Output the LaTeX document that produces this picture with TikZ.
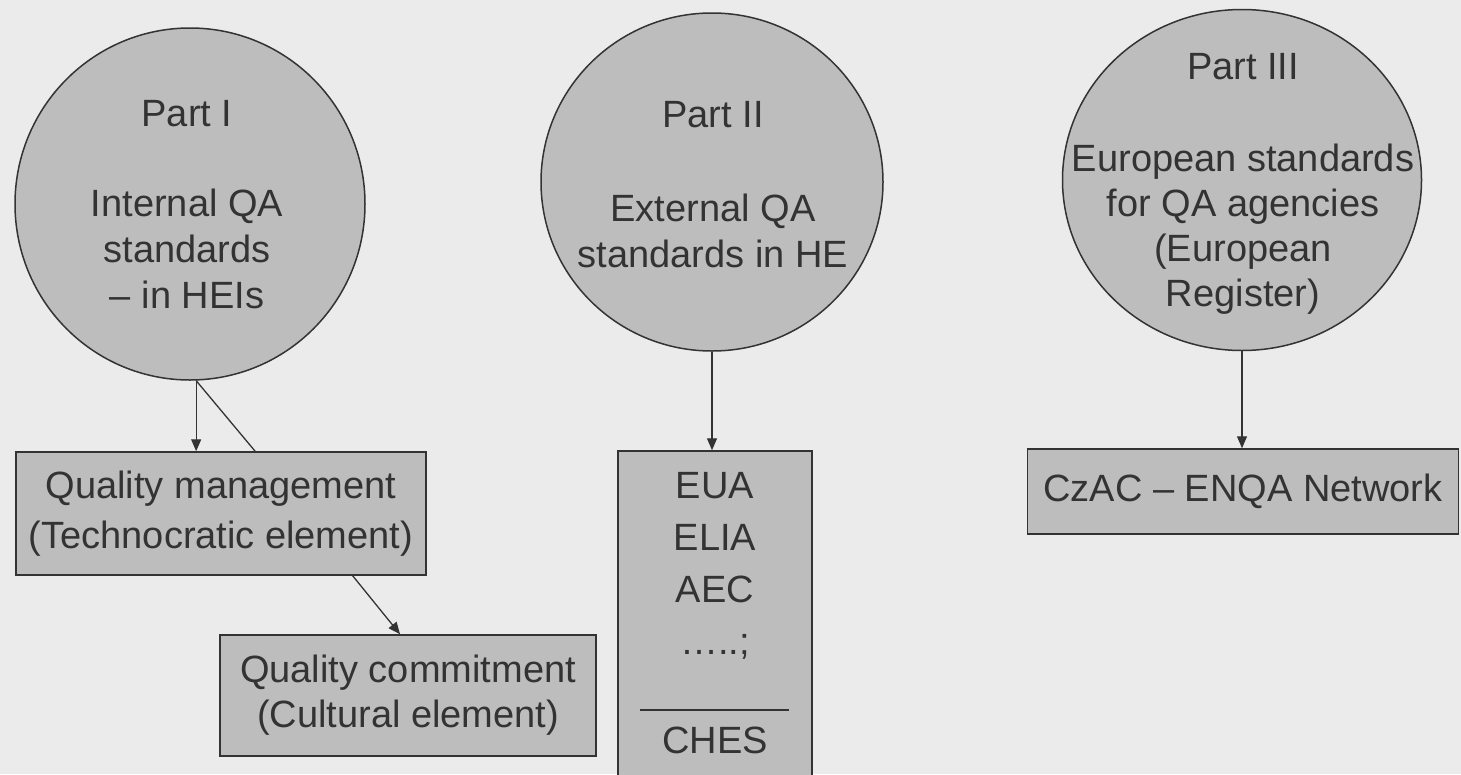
\documentclass[tikz,border=0pt]{standalone}
\usepackage{fontspec}
\setmainfont{Liberation Sans}
\usetikzlibrary{shapes.geometric,arrows.meta,calc}
\definecolor{bgc}{HTML}{EBEBEB}
\definecolor{shapefill}{HTML}{BDBDBD}
\definecolor{ink}{HTML}{333333}
\begin{document}
\begin{tikzpicture}[x=1pt,y=-1pt,
  part/.style={ellipse, draw=ink, fill=shapefill, line width=1.5pt, inner sep=0pt},
  parttext/.style={align=center, inner sep=0pt, text=ink},
  box/.style={rectangle, draw=ink, fill=shapefill, line width=1.5pt, inner sep=0pt, align=center, text=ink},
  plain/.style={inner sep=0pt, align=center, text=ink},
  arr/.style={draw=ink, line width=1.3pt, -{Triangle[length=12pt,width=10pt]}},
  link/.style={draw=ink, line width=1.3pt}]

\useasboundingbox (0,0) rectangle (1461,774);
\clip (0,0) rectangle (1461,774);
\fill[bgc] (0,0) rectangle (1461,774);

% Part I
\node[part, minimum width=350pt, minimum height=352pt] (c1) at (190,204) {};
\node[parttext, font=\fontsize{38}{46}\selectfont] (t1) at (187,205)
  {Part I\\[44pt]Internal QA\\standards\\– in HEIs};

% Part II
\node[part, minimum width=342pt, minimum height=338pt] (c2) at (712,182) {};
\node[parttext, font=\fontsize{38}{46}\selectfont] (t2) at (713,185)
  {Part II\\[48pt]External QA\\standards in HE};

% Part III
\node[part, minimum width=359pt, minimum height=341pt] (c3) at (1242,180) {};
\node[parttext, font=\fontsize{38}{45}\selectfont] (t3) at (1243,184)
  {Part III\\[47pt]European standards\\for QA agencies\\(European\\Register)};

% Boxes
\node[box, minimum width=410pt, minimum height=123pt, font=\fontsize{38}{50}\selectfont] (b1) at (221,513.5)
  {Quality management\\(Technocratic element)};
\node[box, minimum width=376pt, minimum height=121pt, font=\fontsize{38}{45}\selectfont] (b2) at (408,695.5)
  {Quality commitment\\(Cultural element)};
\node[box, minimum width=194pt, minimum height=339pt] (b3) at (715,620.5) {};
\node[plain, anchor=north, font=\fontsize{38}{52}\selectfont] (b3t) at (715,472)
  {EUA\\ELIA\\AEC\\…..;};
\coordinate (r1) at (640,710);
\coordinate (r2) at (789,710);
\draw[link] (r1) -- (r2);
\node[plain, anchor=base, font=\fontsize{38}{46}\selectfont] (b3c) at (715,753) {CHES};
\node[box, minimum width=431pt, minimum height=85pt, font=\fontsize{38}{46}\selectfont] (b4) at (1243,491.5)
  {CzAC – ENQA Network};

% Connectors
\draw[arr] (c1.-88) -- (c1.-88 |- b1.north);
\draw[link] (c1.-88) -- ($(b1.north west)!0.583!(b1.north east)$);
\draw[arr] ($(b1.south west)!0.82!(b1.south east)$) -- ($(b2.north west)!0.479!(b2.north east)$);
\draw[arr] (c2.south) -- (c2.south |- b3.north);
\draw[arr] (c3.south) -- (c3.south |- b4.north);
\end{tikzpicture}
\end{document}
